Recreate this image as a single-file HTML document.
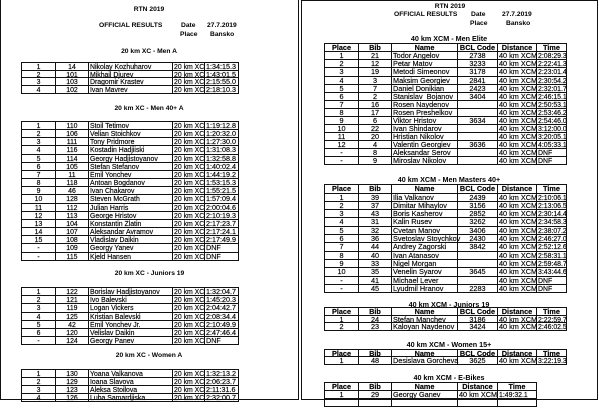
<!DOCTYPE html>
<html><head><meta charset="utf-8">
<style>
*{box-sizing:border-box}
body{margin:0;width:600px;height:401px;position:relative;overflow:hidden;background:#fff;font-family:"Liberation Sans",Arial,sans-serif;color:#000}
.pg{position:absolute;border:1px solid #111;z-index:5;pointer-events:none}
.b{position:absolute;white-space:nowrap;font-weight:bold;font-size:6.7px;line-height:7px}
.c{transform:translateX(-50%)}
.h2{font-size:7.2px;line-height:7px}
table{position:absolute;border-collapse:collapse;table-layout:fixed;font-size:6.9px;-webkit-text-stroke:0.15px #000}
td{border:1px solid #111;padding:0 0 0 1px;line-height:0;white-space:nowrap;vertical-align:top}
td::before{content:"";display:inline-block;width:0;height:5.8px;vertical-align:baseline}
td.m{text-align:center;padding:0}
.L td:nth-child(5){font-size:7.2px}
.R{font-size:7.3px}
.R td:nth-child(6){font-size:6.9px}
.E td:nth-child(5){font-size:6.9px}
.R tr.hd td{font-weight:bold;text-align:center;padding:0;font-size:7.3px}
</style></head><body>

<!-- LEFT PAGE -->
<div class="pg" style="left:0;top:-1px;width:299px;height:401px"></div>
<div class="b c" style="left:149px;top:5.5px">RTN 2019</div>
<div class="b" style="left:99px;top:21.5px">OFFICIAL RESULTS</div>
<div class="b" style="left:181px;top:21.5px">Date</div>
<div class="b" style="left:207px;top:21.5px">27.7.2019</div>
<div class="b" style="left:180px;top:30.5px">Place</div>
<div class="b" style="left:210px;top:30.5px">Bansko</div>

<div class="b c" style="left:149px;top:47.5px">20 km XC - Men A</div>
<table class="L" style="left:21px;top:61.7px;width:217px">
<colgroup><col style="width:34px"><col style="width:33px"><col style="width:84px"><col style="width:32px"><col style="width:34px"></colgroup>
<tr style="height:7.9px"><td class="m">1</td><td class="m">14</td><td>Nikolay Kozhuharov</td><td>20 km XC</td><td>1:34:15.3</td></tr>
<tr style="height:7.9px"><td class="m">2</td><td class="m">101</td><td>Mikhail Djurev</td><td>20 km XC</td><td>1:43:01.5</td></tr>
<tr style="height:7.9px"><td class="m">3</td><td class="m">103</td><td>Dragomir Krastev</td><td>20 km XC</td><td>2:15:55.0</td></tr>
<tr style="height:7.9px"><td class="m">4</td><td class="m">102</td><td>Ivan Mavrev</td><td>20 km XC</td><td>2:18:10.3</td></tr>
</table>

<div class="b c" style="left:149px;top:104.5px">20 km XC - Men 40+ A</div>
<table class="L" style="left:21px;top:121px;width:217px">
<colgroup><col style="width:34px"><col style="width:33px"><col style="width:84px"><col style="width:32px"><col style="width:34px"></colgroup>
<tr style="height:8.17px"><td class="m">1</td><td class="m">110</td><td>Stoil Tetimov</td><td>20 km XC</td><td>1:19:12.8</td></tr>
<tr style="height:8.17px"><td class="m">2</td><td class="m">106</td><td>Velian Stoichkov</td><td>20 km XC</td><td>1:20:32.0</td></tr>
<tr style="height:8.17px"><td class="m">3</td><td class="m">111</td><td>Tony Pridmore</td><td>20 km XC</td><td>1:27:30.0</td></tr>
<tr style="height:8.17px"><td class="m">4</td><td class="m">116</td><td>Kostadin Hadjiiski</td><td>20 km XC</td><td>1:31:08.3</td></tr>
<tr style="height:8.17px"><td class="m">5</td><td class="m">114</td><td>Georgy Hadjistoyanov</td><td>20 km XC</td><td>1:32:58.8</td></tr>
<tr style="height:8.17px"><td class="m">6</td><td class="m">105</td><td>Stefan Stefanov</td><td>20 km XC</td><td>1:40:02.4</td></tr>
<tr style="height:8.17px"><td class="m">7</td><td class="m">11</td><td>Emil Yonchev</td><td>20 km XC</td><td>1:44:19.2</td></tr>
<tr style="height:8.17px"><td class="m">8</td><td class="m">118</td><td>Antoan Bogdanov</td><td>20 km XC</td><td>1:53:15.3</td></tr>
<tr style="height:8.17px"><td class="m">9</td><td class="m">46</td><td>Ivan Chakarov</td><td>20 km XC</td><td>1:55:21.5</td></tr>
<tr style="height:8.17px"><td class="m">10</td><td class="m">128</td><td>Steven McGrath</td><td>20 km XC</td><td>1:57:09.4</td></tr>
<tr style="height:8.17px"><td class="m">11</td><td class="m">112</td><td>Julian Harris</td><td>20 km XC</td><td>2:00:04.6</td></tr>
<tr style="height:8.17px"><td class="m">12</td><td class="m">113</td><td>George Hristov</td><td>20 km XC</td><td>2:10:19.3</td></tr>
<tr style="height:8.17px"><td class="m">13</td><td class="m">104</td><td>Konstantin Zlatin</td><td>20 km XC</td><td>2:17:23.7</td></tr>
<tr style="height:8.17px"><td class="m">14</td><td class="m">107</td><td>Aleksandar Avramov</td><td>20 km XC</td><td>2:17:24.1</td></tr>
<tr style="height:8.17px"><td class="m">15</td><td class="m">108</td><td>Vladislav Daikin</td><td>20 km XC</td><td>2:17:49.9</td></tr>
<tr style="height:8.17px"><td class="m">-</td><td class="m">109</td><td>Georgy Yanev</td><td>20 km XC</td><td>DNF</td></tr>
<tr style="height:8.17px"><td class="m">-</td><td class="m">115</td><td>Kjeld Hansen</td><td>20 km XC</td><td>DNF</td></tr>
</table>

<div class="b c" style="left:149.5px;top:269.5px">20 km XC - Juniors 19</div>
<table class="L" style="left:21px;top:287.3px;width:217px">
<colgroup><col style="width:34px"><col style="width:33px"><col style="width:84px"><col style="width:32px"><col style="width:34px"></colgroup>
<tr style="height:8.1px"><td class="m">1</td><td class="m">122</td><td>Borislav Hadjistoyanov</td><td>20 km XC</td><td>1:32:04.7</td></tr>
<tr style="height:8.1px"><td class="m">2</td><td class="m">121</td><td>Ivo Balevski</td><td>20 km XC</td><td>1:45:20.3</td></tr>
<tr style="height:8.1px"><td class="m">3</td><td class="m">119</td><td>Logan Vickers</td><td>20 km XC</td><td>2:04:42.7</td></tr>
<tr style="height:8.1px"><td class="m">4</td><td class="m">125</td><td>Kristian Balevski</td><td>20 km XC</td><td>2:08:34.4</td></tr>
<tr style="height:8.1px"><td class="m">5</td><td class="m">42</td><td>Emil Yonchev Jr.</td><td>20 km XC</td><td>2:10:49.9</td></tr>
<tr style="height:8.1px"><td class="m">6</td><td class="m">120</td><td>Velislav Daikin</td><td>20 km XC</td><td>2:47:46.4</td></tr>
<tr style="height:8.1px"><td class="m">-</td><td class="m">124</td><td>Georgy Panev</td><td>20 km XC</td><td>DNF</td></tr>
</table>

<div class="b c" style="left:149px;top:352.2px">20 km XC - Women A</div>
<table class="L" style="left:21px;top:369px;width:217px">
<colgroup><col style="width:34px"><col style="width:33px"><col style="width:84px"><col style="width:32px"><col style="width:34px"></colgroup>
<tr style="height:8.1px"><td class="m">1</td><td class="m">130</td><td>Yoana Valkanova</td><td>20 km XC</td><td>1:32:13.2</td></tr>
<tr style="height:8.1px"><td class="m">2</td><td class="m">129</td><td>Ioana Slavova</td><td>20 km XC</td><td>2:06:23.7</td></tr>
<tr style="height:8.1px"><td class="m">3</td><td class="m">123</td><td>Aleksa Stoilova</td><td>20 km XC</td><td>2:11:31.6</td></tr>
<tr style="height:8.1px"><td class="m">4</td><td class="m">126</td><td>Luba Samardjiska</td><td>20 km XC</td><td>2:32:00.7</td></tr>
</table>

<!-- RIGHT PAGE -->
<div class="pg" style="left:301px;top:0;width:297px;height:400px"></div>
<div class="b c" style="left:450px;top:2.5px">RTN 2019</div>
<div class="b" style="left:394px;top:11.2px">OFFICIAL RESULTS</div>
<div class="b" style="left:471px;top:11.2px">Date</div>
<div class="b" style="left:502px;top:11.2px">27.7.2019</div>
<div class="b" style="left:470px;top:19.8px">Place</div>
<div class="b" style="left:506px;top:19.8px">Bansko</div>

<div class="b c h2" style="left:449px;top:35.2px">40 km XCM - Men Elite</div>
<table class="R" style="left:324px;top:43.3px;width:242px">
<colgroup><col style="width:34px"><col style="width:33px"><col style="width:66px"><col style="width:40px"><col style="width:39px"><col style="width:30px"></colgroup>
<tr class="hd" style="height:8.07px"><td>Place</td><td>Bib</td><td>Name</td><td>BCL Code</td><td>Distance</td><td>Time</td></tr>
<tr style="height:8.07px"><td class="m">1</td><td class="m">21</td><td>Todor Angelov</td><td class="m">2738</td><td>40 km XCM</td><td>2:08:29.3</td></tr>
<tr style="height:8.07px"><td class="m">2</td><td class="m">12</td><td>Petar Matov</td><td class="m">3233</td><td>40 km XCM</td><td>2:22:41.3</td></tr>
<tr style="height:8.07px"><td class="m">3</td><td class="m">19</td><td>Metodi Simeonov</td><td class="m">3178</td><td>40 km XCM</td><td>2:23:01.4</td></tr>
<tr style="height:8.07px"><td class="m">4</td><td class="m">3</td><td>Maksim Georgiev</td><td class="m">2841</td><td>40 km XCM</td><td>2:30:54.2</td></tr>
<tr style="height:8.07px"><td class="m">5</td><td class="m">7</td><td>Daniel Donikian</td><td class="m">2423</td><td>40 km XCM</td><td>2:32:01.7</td></tr>
<tr style="height:8.07px"><td class="m">6</td><td class="m">2</td><td>Stanislav&nbsp; Bojanov</td><td class="m">3404</td><td>40 km XCM</td><td>2:46:15.1</td></tr>
<tr style="height:8.07px"><td class="m">7</td><td class="m">16</td><td>Rosen Naydenov</td><td class="m"></td><td>40 km XCM</td><td>2:50:53.1</td></tr>
<tr style="height:8.07px"><td class="m">8</td><td class="m">17</td><td>Rosen Preshelkov</td><td class="m"></td><td>40 km XCM</td><td>2:53:46.2</td></tr>
<tr style="height:8.07px"><td class="m">9</td><td class="m">6</td><td>Viktor Hristov</td><td class="m">3634</td><td>40 km XCM</td><td>2:54:46.0</td></tr>
<tr style="height:8.07px"><td class="m">10</td><td class="m">22</td><td>Ivan Shindarov</td><td class="m"></td><td>40 km XCM</td><td>3:12:00.0</td></tr>
<tr style="height:8.07px"><td class="m">11</td><td class="m">20</td><td>Hristian Nikolov</td><td class="m"></td><td>40 km XCM</td><td>3:20:05.1</td></tr>
<tr style="height:8.07px"><td class="m">12</td><td class="m">4</td><td>Valentin Georgiev</td><td class="m">3636</td><td>40 km XCM</td><td>4:05:33.1</td></tr>
<tr style="height:8.07px"><td class="m">-</td><td class="m">8</td><td>Aleksandar Serov</td><td class="m"></td><td>40 km XCM</td><td>DNF</td></tr>
<tr style="height:8.07px"><td class="m">-</td><td class="m">9</td><td>Miroslav Nikolov</td><td class="m"></td><td>40 km XCM</td><td>DNF</td></tr>
</table>

<div class="b c h2" style="left:449px;top:175.5px">40 km XCM - Men Masters 40+</div>
<table class="R" style="left:324px;top:184.3px;width:242px">
<colgroup><col style="width:34px"><col style="width:33px"><col style="width:66px"><col style="width:40px"><col style="width:39px"><col style="width:30px"></colgroup>
<tr class="hd" style="height:8.3px"><td>Place</td><td>Bib</td><td>Name</td><td>BCL Code</td><td>Distance</td><td>Time</td></tr>
<tr style="height:8.3px"><td class="m">1</td><td class="m">39</td><td>Ilia Valkanov</td><td class="m">2439</td><td>40 km XCM</td><td>2:10:06.1</td></tr>
<tr style="height:8.3px"><td class="m">2</td><td class="m">37</td><td>Dimitar Mihaylov</td><td class="m">3156</td><td>40 km XCM</td><td>2:13:06.5</td></tr>
<tr style="height:8.3px"><td class="m">3</td><td class="m">43</td><td>Boris Kasherov</td><td class="m">2852</td><td>40 km XCM</td><td>2:30:14.4</td></tr>
<tr style="height:8.3px"><td class="m">4</td><td class="m">31</td><td>Kalin Rusev</td><td class="m">3262</td><td>40 km XCM</td><td>2:34:58.3</td></tr>
<tr style="height:8.3px"><td class="m">5</td><td class="m">32</td><td>Cvetan Manov</td><td class="m">3406</td><td>40 km XCM</td><td>2:38:07.2</td></tr>
<tr style="height:8.3px"><td class="m">6</td><td class="m">36</td><td>Svetoslav Stoychkov</td><td class="m">2430</td><td>40 km XCM</td><td>2:46:27.0</td></tr>
<tr style="height:8.3px"><td class="m">7</td><td class="m">44</td><td>Andrey Zagorski</td><td class="m">3842</td><td>40 km XCM</td><td>2:52:12.6</td></tr>
<tr style="height:8.3px"><td class="m">8</td><td class="m">40</td><td>Ivan Atanasov</td><td class="m"></td><td>40 km XCM</td><td>2:58:31.1</td></tr>
<tr style="height:8.3px"><td class="m">9</td><td class="m">33</td><td>Nigel Morgan</td><td class="m"></td><td>40 km XCM</td><td>2:59:48.7</td></tr>
<tr style="height:8.3px"><td class="m">10</td><td class="m">35</td><td>Venelin Syarov</td><td class="m">3645</td><td>40 km XCM</td><td>3:43:44.6</td></tr>
<tr style="height:8.3px"><td class="m">-</td><td class="m">41</td><td>Michael Lever</td><td class="m"></td><td>40 km XCM</td><td>DNF</td></tr>
<tr style="height:8.3px"><td class="m">-</td><td class="m">45</td><td>Lyudmil Hranov</td><td class="m">2283</td><td>40 km XCM</td><td>DNF</td></tr>
</table>

<div class="b c h2" style="left:449px;top:300.8px">40 km XCM - Juniors 19</div>
<table class="R" style="left:324px;top:307.3px;width:242px">
<colgroup><col style="width:34px"><col style="width:33px"><col style="width:66px"><col style="width:40px"><col style="width:39px"><col style="width:30px"></colgroup>
<tr class="hd" style="height:7.6px"><td>Place</td><td>Bib</td><td>Name</td><td>BCL Code</td><td>Distance</td><td>Time</td></tr>
<tr style="height:7.6px"><td class="m">1</td><td class="m">24</td><td>Stefan Manchev</td><td class="m">3186</td><td>40 km XCM</td><td>2:22:59.7</td></tr>
<tr style="height:7.6px"><td class="m">2</td><td class="m">23</td><td>Kaloyan Naydenov</td><td class="m">3424</td><td>40 km XCM</td><td>2:46:02.5</td></tr>
</table>

<div class="b c h2" style="left:449px;top:340.5px">40 km XCM - Women 15+</div>
<table class="R" style="left:324px;top:348.7px;width:242px">
<colgroup><col style="width:34px"><col style="width:33px"><col style="width:66px"><col style="width:40px"><col style="width:39px"><col style="width:30px"></colgroup>
<tr class="hd" style="height:7.8px"><td>Place</td><td>Bib</td><td>Name</td><td>BCL Code</td><td>Distance</td><td>Time</td></tr>
<tr style="height:7.8px"><td class="m">1</td><td class="m">48</td><td>Desislava Gorcheva</td><td class="m">3625</td><td>40 km XCM</td><td>3:22:19.3</td></tr>
</table>

<div class="b c h2" style="left:449px;top:373.8px">40 km XCM - E-Bikes</div>
<table class="R E" style="left:324px;top:381.7px;width:212px">
<colgroup><col style="width:34px"><col style="width:33px"><col style="width:66px"><col style="width:40px"><col style="width:39px"></colgroup>
<tr class="hd" style="height:8px"><td>Place</td><td>Bib</td><td>Name</td><td>Distance</td><td>Time</td></tr>
<tr style="height:8px"><td class="m">1</td><td class="m">29</td><td>Georgy Ganev</td><td>40 km XCM</td><td>1:49:32.1</td></tr>
<tr style="height:8px"><td class="m"></td><td class="m"></td><td></td><td></td><td></td></tr>
</table>

</body></html>
